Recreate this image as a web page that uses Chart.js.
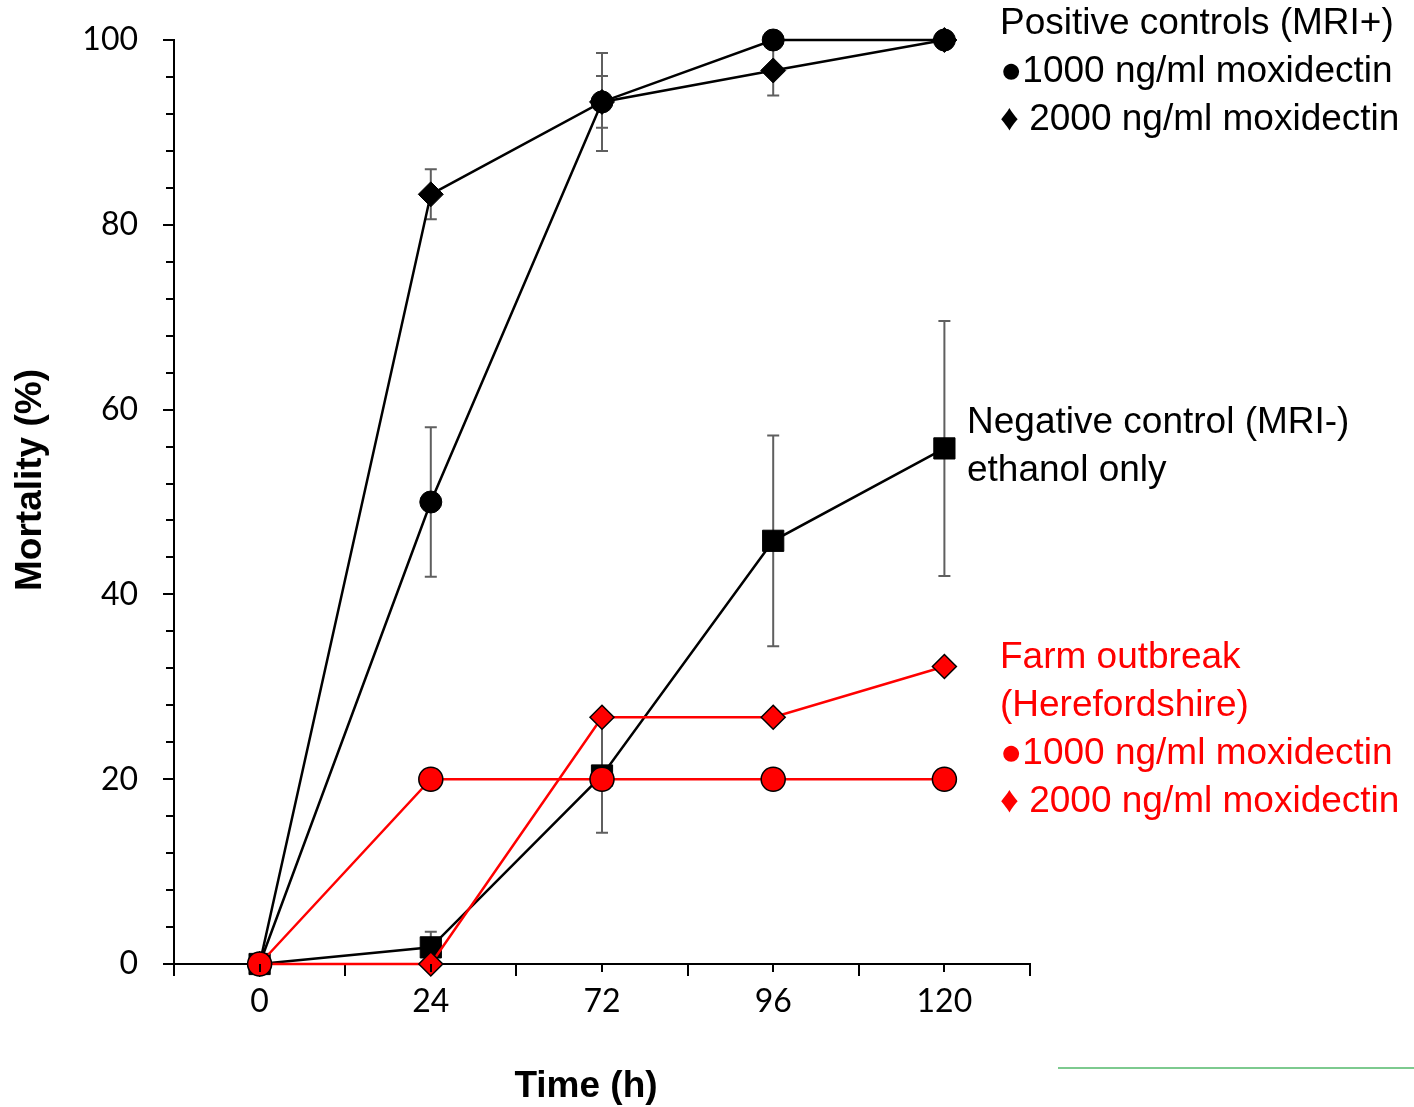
<!DOCTYPE html>
<html>
<head>
<meta charset="utf-8">
<script src="https://cdn.jsdelivr.net/npm/chart.js@4.4.1/dist/chart.umd.min.js"></script>
<style>
  body { margin: 0; background: #fff; }
  #wrap { position: relative; width: 1414px; height: 1107px; }
</style>
</head>
<body>
<div id="wrap"><canvas id="myChart" width="1414" height="1107"></canvas></div>
<script>
// data (mortality %, mean and error)
const timeLabels = ['0', '24', '72', '96', '120'];

const pos1000 = [0, 50, 93.3, 100, 100];
const pos1000Err = [0, 8.1, 5.3, 0, 0];

const pos2000 = [0, 83.3, 93.3, 96.7, 100];
const pos2000Err = [0, 2.7, 2.8, 2.7, 0];

const negControl = [0, 1.8, 20.4, 45.8, 55.8];
const negErr = [0, 1.7, 6.2, 11.4, 13.8];

const farm1000 = [0, 20, 20, 20, 20];
const farm2000 = [0, 0, 26.7, 26.7, 32.2];

const yMin = 0;
const yMax = 100;
const yMajorStep = 20;
const yMinorStep = 4;

const chartCanvas = document.getElementById('myChart').getContext('2d');

// error bars, drawn behind the markers
const errorBars = {
    id: 'errorBars',
    beforeDatasetsDraw(chart) {
        const ctx = chart.ctx;
        const yScale = chart.scales.y;
        chart.data.datasets.forEach((ds, i) => {
            if (!ds.errors) return;
            const meta = chart.getDatasetMeta(i);
            ctx.save();
            ctx.strokeStyle = '#5f5f5f';
            ctx.lineWidth = 2;
            ds.data.forEach((v, j) => {
                const e = ds.errors[j];
                if (!e) return;
                const x = meta.data[j].x;
                const yTop = yScale.getPixelForValue(v + e);
                const yBot = yScale.getPixelForValue(v - e);
                ctx.beginPath();
                ctx.moveTo(x, yTop);
                ctx.lineTo(x, yBot);
                ctx.moveTo(x - 6, yTop);
                ctx.lineTo(x + 6, yTop);
                ctx.moveTo(x - 6, yBot);
                ctx.lineTo(x + 6, yBot);
                ctx.stroke();
            });
            ctx.restore();
        });
    }
};

// minor ticks, centre ticks on x, and the text labels beside the lines
const extras = {
    id: 'extras',
    afterDraw(chart) {
        const ctx = chart.ctx;
        const x = chart.scales.x;
        const y = chart.scales.y;
        ctx.save();
        ctx.strokeStyle = '#000';
        ctx.lineWidth = 2;
        ctx.beginPath();
        for (let v = yMin; v <= yMax; v += yMinorStep) {
            if (v % yMajorStep === 0) continue;
            const py = Math.round(y.getPixelForValue(v));
            ctx.moveTo(y.right - 8, py);
            ctx.lineTo(y.right, py);
        }
        timeLabels.forEach((t, i) => {
            const px = Math.round(x.getPixelForValue(i));
            ctx.moveTo(px, x.top);
            ctx.lineTo(px, x.top + 8);
        });
        ctx.stroke();

        ctx.textBaseline = 'middle';
        ctx.textAlign = 'left';
        ctx.font = '37px "Liberation Sans", Arial, sans-serif';
        ctx.fillStyle = '#000';
        ctx.fillText('Positive controls (MRI+)', 1000, 24);
        ctx.fillText('\u25CF1000 ng/ml moxidectin', 1000, 72);
        ctx.fillText('\u2666 2000 ng/ml moxidectin', 1000, 120);
        ctx.fillText('Negative control (MRI-)', 967, 423);
        ctx.fillText('ethanol only', 967, 471);
        ctx.fillStyle = '#ff0000';
        ctx.fillText('Farm outbreak', 1000, 658);
        ctx.fillText('(Herefordshire)', 1000, 706);
        ctx.fillText('\u25CF1000 ng/ml moxidectin', 1000, 754);
        ctx.fillText('\u2666 2000 ng/ml moxidectin', 1000, 802);

        ctx.fillStyle = '#000';
        ctx.textAlign = 'center';
        ctx.font = 'bold 37px "Liberation Sans", Arial, sans-serif';
        ctx.fillText('Time (h)', 586, 1087);

        ctx.save();
        ctx.translate(31, 480);
        ctx.rotate(-Math.PI / 2);
        ctx.fillText('Mortality (%)', 0, 0);
        ctx.restore();

        ctx.strokeStyle = '#52b96a';
        ctx.lineWidth = 1.5;
        ctx.beginPath();
        ctx.moveTo(1058, 1068);
        ctx.lineTo(1414, 1068);
        ctx.stroke();
        ctx.restore();
    }
};

const blackLine = {
    borderColor: '#000',
    backgroundColor: '#000',
    pointBorderColor: '#000',
    pointBackgroundColor: '#000',
    borderWidth: 2.5,
    pointBorderWidth: 1,
    clip: false
};

const redLine = {
    borderColor: '#ff0000',
    backgroundColor: '#ff0000',
    pointBorderColor: '#000',
    pointBackgroundColor: '#ff0000',
    borderWidth: 2.5,
    pointBorderWidth: 1.5,
    clip: false
};

new Chart(chartCanvas, {
    type: 'line',
    data: {
        labels: timeLabels,
        datasets: [
            Object.assign({}, blackLine, {
                label: 'Negative control (MRI-)',
                data: negControl,
                errors: negErr,
                pointStyle: 'rect',
                pointRadius: 15,
                order: 3
            }),
            Object.assign({}, blackLine, {
                label: 'Positive 2000 ng/ml',
                data: pos2000,
                errors: pos2000Err,
                pointStyle: 'rectRot',
                pointRadius: 12.5,
                order: 2
            }),
            Object.assign({}, blackLine, {
                label: 'Positive 1000 ng/ml',
                data: pos1000,
                errors: pos1000Err,
                pointStyle: 'circle',
                pointRadius: 11,
                order: 1
            }),
            Object.assign({}, redLine, {
                label: 'Farm 2000 ng/ml',
                data: farm2000,
                pointStyle: 'rectRot',
                pointRadius: 12,
                order: 0
            }),
            Object.assign({}, redLine, {
                label: 'Farm 1000 ng/ml',
                data: farm1000,
                pointStyle: 'circle',
                pointRadius: 12,
                order: -1
            })
        ]
    },
    options: {
        responsive: false,
        animation: false,
        layout: {
            padding: { left: 0, right: 384, top: 40, bottom: 0 }
        },
        plugins: {
            legend: { display: false },
            tooltip: { enabled: false }
        },
        scales: {
            x: {
                type: 'category',
                offset: true,
                afterFit: (scale) => { scale.height = 143; },
                border: { color: '#000', width: 2 },
                grid: {
                    offset: true,
                    drawOnChartArea: false,
                    tickLength: 12,
                    color: '#000',
                    lineWidth: 2
                },
                ticks: {
                    color: '#000',
                    padding: 6,
                    font: { family: 'Lato', size: 32 }
                }
            },
            y: {
                min: yMin,
                max: yMax,
                afterFit: (scale) => {
                    scale.width = 174;
                    scale.paddingTop = 0;
                    scale.paddingBottom = 0;
                },
                border: { color: '#000', width: 2 },
                grid: {
                    drawOnChartArea: false,
                    tickLength: 11,
                    lineWidth: 2,
                    color: (c) => (c.tick && c.tick.value % yMajorStep === 0) ? '#000' : 'rgba(0,0,0,0)'
                },
                ticks: {
                    stepSize: yMinorStep,
                    autoSkip: false,
                    color: '#000',
                    padding: 25,
                    font: { family: 'Lato', size: 32 },
                    callback: (v) => (v % yMajorStep === 0 ? String(v) : '')
                }
            }
        }
    },
    plugins: [errorBars, extras]
});
</script>
</body>
</html>
